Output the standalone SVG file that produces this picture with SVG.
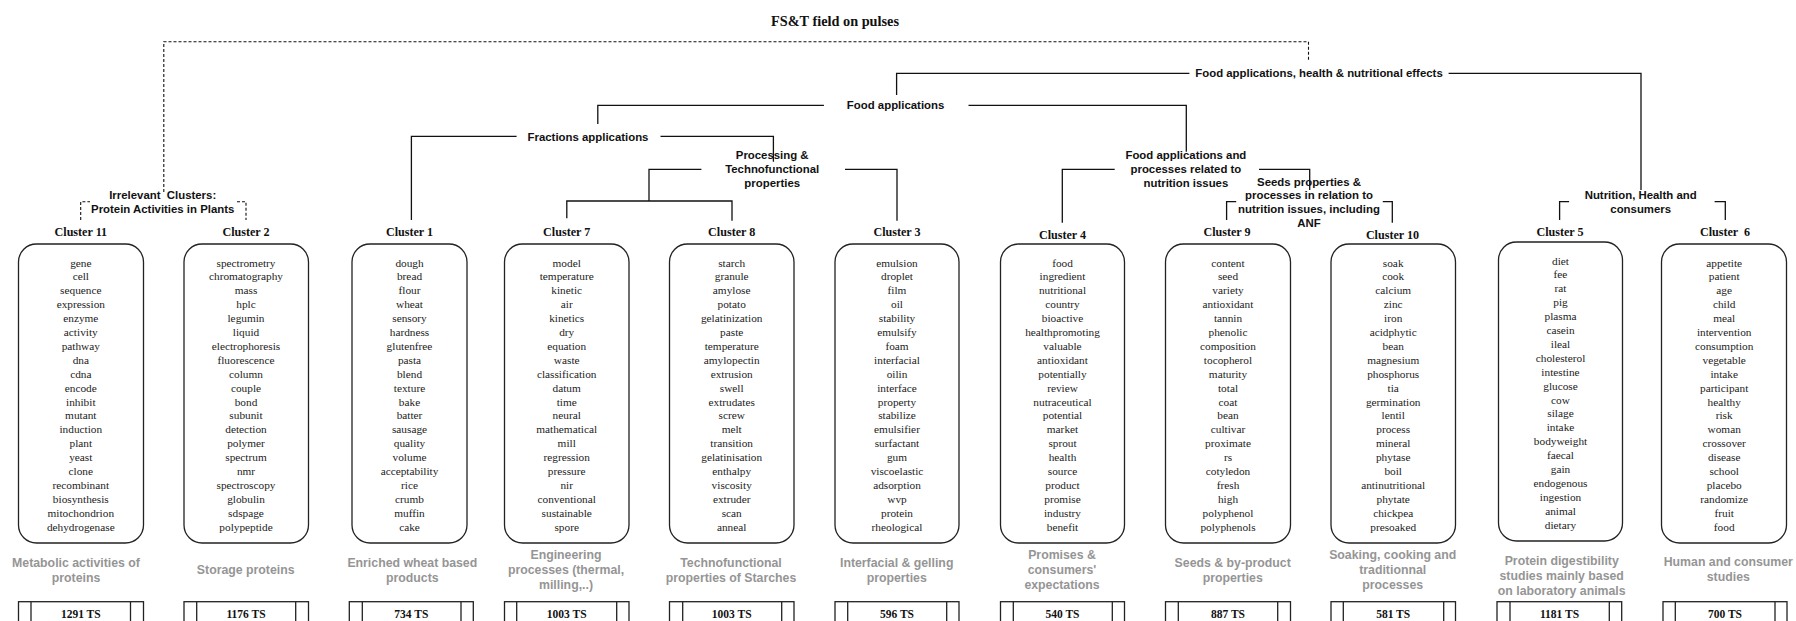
<svg xmlns="http://www.w3.org/2000/svg" width="1796" height="621" viewBox="0 0 1796 621">
<style>
.bg{fill:#ffffff}
.box{fill:#ffffff;stroke:#222;stroke-width:1.3}
.ts{fill:#ffffff;stroke:#222;stroke-width:1.3}
.tsl{stroke:#222;stroke-width:1.3}
.w{font-family:"Liberation Serif","Times New Roman",serif;font-size:11.3px;fill:#222;text-anchor:middle}
.cl{font-family:"Liberation Serif","Times New Roman",serif;font-size:12.1px;font-weight:bold;fill:#111;text-anchor:middle}
.tsv{font-family:"Liberation Serif","Times New Roman",serif;font-size:11.5px;font-weight:bold;fill:#111;text-anchor:middle}
.title{font-family:"Liberation Serif","Times New Roman",serif;font-size:14.3px;font-weight:bold;fill:#111;text-anchor:middle}
.lb{font-family:"Liberation Sans",Arial,sans-serif;font-size:11.4px;font-weight:bold;fill:#111;text-anchor:middle}
.desc{font-family:"Liberation Sans",Arial,sans-serif;font-size:12.3px;font-weight:bold;fill:#959595;text-anchor:middle}
.con{fill:none;stroke:#111;stroke-width:1.3}
.dash{fill:none;stroke:#111;stroke-width:1.1;stroke-dasharray:3 2}
</style>
<rect class="bg" x="0" y="0" width="1796" height="621"/>

<text class="title" x="835" y="25.5">FS&amp;T field on pulses</text>

<g id="connectors">
<path class="dash" d="M163.8,192 V41.7 H1308.5 V60"/>
<path class="dash" d="M80.7,220 V201.7 H90 M237,201.7 H246 V220"/>
<path class="con" d="M896.6,95 V73.3 H1189.4 M1448.6,73.3 H1641 V190"/>
<path class="con" d="M597.8,124 V105.3 H823.9 M968.5,105.3 H1186.3 V151.7"/>
<path class="con" d="M411.4,220 V136.3 H516.6 M660.5,136.3 H773.4 V161.7"/>
<path class="con" d="M701.4,169.3 H649 V201 M566.8,218.3 V201 H732 V220.7 M845,169.3 H897 V220.7"/>
<path class="con" d="M1114.7,169.3 H1062.3 V222.7 M1259,169.3 H1309.7 V190"/>
<path class="con" d="M1226.6,220 V201.7 H1236.2 M1382.8,201.7 H1392.3 V222.7"/>
<path class="con" d="M1559.6,220 V201.7 H1569.1 M1714.6,201.7 H1725.3 V220"/>
</g>

<g id="group-labels">
<text class="lb" x="1319" y="77.3">Food applications, health &amp; nutritional effects</text>
<text class="lb" x="895.6" y="109.3">Food applications</text>
<text class="lb" x="588" y="141">Fractions applications</text>
<text class="lb" x="772.2" y="159.3">Processing &amp;<tspan x="772.2" dy="14">Technofunctional</tspan><tspan x="772.2" dy="14">properties</tspan></text>
<text class="lb" x="1185.9" y="159.3">Food applications and<tspan x="1185.9" dy="14">processes related to</tspan><tspan x="1185.9" dy="14">nutrition issues</tspan></text>
<text class="lb" x="1309" y="185.5">Seeds properties &amp;<tspan x="1309" dy="13.7">processes in relation to</tspan><tspan x="1309" dy="13.7">nutrition issues, including</tspan><tspan x="1309" dy="13.7">ANF</tspan></text>
<text class="lb" x="1640.7" y="199">Nutrition, Health and<tspan x="1640.7" dy="14">consumers</tspan></text>
<text class="lb" x="162.7" y="199" xml:space="preserve" style="white-space:pre">Irrelevant  Clusters:</text>
<text class="lb" x="162.7" y="213">Protein Activities in Plants</text>
</g>

<g id="cluster11">
<text class="cl" x="80.8" y="236">Cluster 11</text>
<rect class="box" x="18.5" y="244" width="125" height="299" rx="18"/>
<text class="w" x="80.8" y="266.5">gene<tspan x="80.8" dy="13.9">cell</tspan><tspan x="80.8" dy="13.9">sequence</tspan><tspan x="80.8" dy="13.9">expression</tspan><tspan x="80.8" dy="13.9">enzyme</tspan><tspan x="80.8" dy="13.9">activity</tspan><tspan x="80.8" dy="13.9">pathway</tspan><tspan x="80.8" dy="13.9">dna</tspan><tspan x="80.8" dy="13.9">cdna</tspan><tspan x="80.8" dy="13.9">encode</tspan><tspan x="80.8" dy="13.9">inhibit</tspan><tspan x="80.8" dy="13.9">mutant</tspan><tspan x="80.8" dy="13.9">induction</tspan><tspan x="80.8" dy="13.9">plant</tspan><tspan x="80.8" dy="13.9">yeast</tspan><tspan x="80.8" dy="13.9">clone</tspan><tspan x="80.8" dy="13.9">recombinant</tspan><tspan x="80.8" dy="13.9">biosynthesis</tspan><tspan x="80.8" dy="13.9">mitochondrion</tspan><tspan x="80.8" dy="13.9">dehydrogenase</tspan></text>
<text class="desc" x="76" y="567">Metabolic activities of<tspan x="76" dy="15">proteins</tspan></text>
<rect class="ts" x="18.5" y="601.7" width="125" height="40"/>
<path class="tsl" d="M31,601.7 V641.7 M130.5,601.7 V641.7"/>
<text class="tsv" x="80.8" y="617.5">1291 TS</text>
</g>

<g id="cluster2">
<text class="cl" x="246" y="236">Cluster 2</text>
<rect class="box" x="184" y="244" width="124.5" height="299" rx="18"/>
<text class="w" x="246" y="266.5">spectrometry<tspan x="246" dy="13.9">chromatography</tspan><tspan x="246" dy="13.9">mass</tspan><tspan x="246" dy="13.9">hplc</tspan><tspan x="246" dy="13.9">legumin</tspan><tspan x="246" dy="13.9">liquid</tspan><tspan x="246" dy="13.9">electrophoresis</tspan><tspan x="246" dy="13.9">fluorescence</tspan><tspan x="246" dy="13.9">column</tspan><tspan x="246" dy="13.9">couple</tspan><tspan x="246" dy="13.9">bond</tspan><tspan x="246" dy="13.9">subunit</tspan><tspan x="246" dy="13.9">detection</tspan><tspan x="246" dy="13.9">polymer</tspan><tspan x="246" dy="13.9">spectrum</tspan><tspan x="246" dy="13.9">nmr</tspan><tspan x="246" dy="13.9">spectroscopy</tspan><tspan x="246" dy="13.9">globulin</tspan><tspan x="246" dy="13.9">sdspage</tspan><tspan x="246" dy="13.9">polypeptide</tspan></text>
<text class="desc" x="245.7" y="574.3">Storage proteins</text>
<rect class="ts" x="184" y="601.7" width="124.5" height="40"/>
<path class="tsl" d="M196.7,601.7 V641.7 M295.7,601.7 V641.7"/>
<text class="tsv" x="246" y="617.5">1176 TS</text>
</g>

<g id="cluster1">
<text class="cl" x="409.5" y="236">Cluster 1</text>
<rect class="box" x="352" y="244" width="115" height="299" rx="18"/>
<text class="w" x="409.5" y="266.5">dough<tspan x="409.5" dy="13.9">bread</tspan><tspan x="409.5" dy="13.9">flour</tspan><tspan x="409.5" dy="13.9">wheat</tspan><tspan x="409.5" dy="13.9">sensory</tspan><tspan x="409.5" dy="13.9">hardness</tspan><tspan x="409.5" dy="13.9">glutenfree</tspan><tspan x="409.5" dy="13.9">pasta</tspan><tspan x="409.5" dy="13.9">blend</tspan><tspan x="409.5" dy="13.9">texture</tspan><tspan x="409.5" dy="13.9">bake</tspan><tspan x="409.5" dy="13.9">batter</tspan><tspan x="409.5" dy="13.9">sausage</tspan><tspan x="409.5" dy="13.9">quality</tspan><tspan x="409.5" dy="13.9">volume</tspan><tspan x="409.5" dy="13.9">acceptability</tspan><tspan x="409.5" dy="13.9">rice</tspan><tspan x="409.5" dy="13.9">crumb</tspan><tspan x="409.5" dy="13.9">muffin</tspan><tspan x="409.5" dy="13.9">cake</tspan></text>
<text class="desc" x="412.3" y="567">Enriched wheat based<tspan x="412.3" dy="15">products</tspan></text>
<rect class="ts" x="349.3" y="601.7" width="124" height="40"/>
<path class="tsl" d="M362.3,601.7 V641.7 M461,601.7 V641.7"/>
<text class="tsv" x="411.3" y="617.5">734 TS</text>
</g>

<g id="cluster7">
<text class="cl" x="566.7" y="236">Cluster 7</text>
<rect class="box" x="504.5" y="244" width="124.5" height="299" rx="18"/>
<text class="w" x="566.7" y="266.5">model<tspan x="566.7" dy="13.9">temperature</tspan><tspan x="566.7" dy="13.9">kinetic</tspan><tspan x="566.7" dy="13.9">air</tspan><tspan x="566.7" dy="13.9">kinetics</tspan><tspan x="566.7" dy="13.9">dry</tspan><tspan x="566.7" dy="13.9">equation</tspan><tspan x="566.7" dy="13.9">waste</tspan><tspan x="566.7" dy="13.9">classification</tspan><tspan x="566.7" dy="13.9">datum</tspan><tspan x="566.7" dy="13.9">time</tspan><tspan x="566.7" dy="13.9">neural</tspan><tspan x="566.7" dy="13.9">mathematical</tspan><tspan x="566.7" dy="13.9">mill</tspan><tspan x="566.7" dy="13.9">regression</tspan><tspan x="566.7" dy="13.9">pressure</tspan><tspan x="566.7" dy="13.9">nir</tspan><tspan x="566.7" dy="13.9">conventional</tspan><tspan x="566.7" dy="13.9">sustainable</tspan><tspan x="566.7" dy="13.9">spore</tspan></text>
<text class="desc" x="566" y="559.3">Engineering<tspan x="566" dy="15">processes (thermal,</tspan><tspan x="566" dy="15">milling,..)</tspan></text>
<rect class="ts" x="504.5" y="601.7" width="124.5" height="40"/>
<path class="tsl" d="M516.7,601.7 V641.7 M616.7,601.7 V641.7"/>
<text class="tsv" x="566.7" y="617.5">1003 TS</text>
</g>

<g id="cluster8">
<text class="cl" x="731.7" y="236">Cluster 8</text>
<rect class="box" x="669.5" y="244" width="124.5" height="299" rx="18"/>
<text class="w" x="731.7" y="266.5">starch<tspan x="731.7" dy="13.9">granule</tspan><tspan x="731.7" dy="13.9">amylose</tspan><tspan x="731.7" dy="13.9">potato</tspan><tspan x="731.7" dy="13.9">gelatinization</tspan><tspan x="731.7" dy="13.9">paste</tspan><tspan x="731.7" dy="13.9">temperature</tspan><tspan x="731.7" dy="13.9">amylopectin</tspan><tspan x="731.7" dy="13.9">extrusion</tspan><tspan x="731.7" dy="13.9">swell</tspan><tspan x="731.7" dy="13.9">extrudates</tspan><tspan x="731.7" dy="13.9">screw</tspan><tspan x="731.7" dy="13.9">melt</tspan><tspan x="731.7" dy="13.9">transition</tspan><tspan x="731.7" dy="13.9">gelatinisation</tspan><tspan x="731.7" dy="13.9">enthalpy</tspan><tspan x="731.7" dy="13.9">viscosity</tspan><tspan x="731.7" dy="13.9">extruder</tspan><tspan x="731.7" dy="13.9">scan</tspan><tspan x="731.7" dy="13.9">anneal</tspan></text>
<text class="desc" x="731" y="567">Technofunctional<tspan x="731" dy="15">properties of Starches</tspan></text>
<rect class="ts" x="669.5" y="601.7" width="124.5" height="40"/>
<path class="tsl" d="M682.7,601.7 V641.7 M781.7,601.7 V641.7"/>
<text class="tsv" x="731.7" y="617.5">1003 TS</text>
</g>

<g id="cluster3">
<text class="cl" x="897" y="236">Cluster 3</text>
<rect class="box" x="835" y="244" width="124" height="299" rx="18"/>
<text class="w" x="897" y="266.5">emulsion<tspan x="897" dy="13.9">droplet</tspan><tspan x="897" dy="13.9">film</tspan><tspan x="897" dy="13.9">oil</tspan><tspan x="897" dy="13.9">stability</tspan><tspan x="897" dy="13.9">emulsify</tspan><tspan x="897" dy="13.9">foam</tspan><tspan x="897" dy="13.9">interfacial</tspan><tspan x="897" dy="13.9">oilin</tspan><tspan x="897" dy="13.9">interface</tspan><tspan x="897" dy="13.9">property</tspan><tspan x="897" dy="13.9">stabilize</tspan><tspan x="897" dy="13.9">emulsifier</tspan><tspan x="897" dy="13.9">surfactant</tspan><tspan x="897" dy="13.9">gum</tspan><tspan x="897" dy="13.9">viscoelastic</tspan><tspan x="897" dy="13.9">adsorption</tspan><tspan x="897" dy="13.9">wvp</tspan><tspan x="897" dy="13.9">protein</tspan><tspan x="897" dy="13.9">rheological</tspan></text>
<text class="desc" x="896.7" y="567">Interfacial &amp; gelling<tspan x="896.7" dy="15">properties</tspan></text>
<rect class="ts" x="835" y="601.7" width="124" height="40"/>
<path class="tsl" d="M847.7,601.7 V641.7 M946.7,601.7 V641.7"/>
<text class="tsv" x="897" y="617.5">596 TS</text>
</g>

<g id="cluster4">
<text class="cl" x="1062.5" y="238.5">Cluster 4</text>
<rect class="box" x="1000.5" y="244" width="124" height="299" rx="18"/>
<text class="w" x="1062.5" y="266.5">food<tspan x="1062.5" dy="13.9">ingredient</tspan><tspan x="1062.5" dy="13.9">nutritional</tspan><tspan x="1062.5" dy="13.9">country</tspan><tspan x="1062.5" dy="13.9">bioactive</tspan><tspan x="1062.5" dy="13.9">healthpromoting</tspan><tspan x="1062.5" dy="13.9">valuable</tspan><tspan x="1062.5" dy="13.9">antioxidant</tspan><tspan x="1062.5" dy="13.9">potentially</tspan><tspan x="1062.5" dy="13.9">review</tspan><tspan x="1062.5" dy="13.9">nutraceutical</tspan><tspan x="1062.5" dy="13.9">potential</tspan><tspan x="1062.5" dy="13.9">market</tspan><tspan x="1062.5" dy="13.9">sprout</tspan><tspan x="1062.5" dy="13.9">health</tspan><tspan x="1062.5" dy="13.9">source</tspan><tspan x="1062.5" dy="13.9">product</tspan><tspan x="1062.5" dy="13.9">promise</tspan><tspan x="1062.5" dy="13.9">industry</tspan><tspan x="1062.5" dy="13.9">benefit</tspan></text>
<text class="desc" x="1062" y="559.3">Promises &amp;<tspan x="1062" dy="15">consumers'</tspan><tspan x="1062" dy="15">expectations</tspan></text>
<rect class="ts" x="1000.5" y="601.7" width="124" height="40"/>
<path class="tsl" d="M1013.3,601.7 V641.7 M1112.3,601.7 V641.7"/>
<text class="tsv" x="1062.5" y="617.5">540 TS</text>
</g>

<g id="cluster9">
<text class="cl" x="1227" y="236">Cluster 9</text>
<rect class="box" x="1165.5" y="244" width="125" height="299" rx="18"/>
<text class="w" x="1228" y="266.5">content<tspan x="1228" dy="13.9">seed</tspan><tspan x="1228" dy="13.9">variety</tspan><tspan x="1228" dy="13.9">antioxidant</tspan><tspan x="1228" dy="13.9">tannin</tspan><tspan x="1228" dy="13.9">phenolic</tspan><tspan x="1228" dy="13.9">composition</tspan><tspan x="1228" dy="13.9">tocopherol</tspan><tspan x="1228" dy="13.9">maturity</tspan><tspan x="1228" dy="13.9">total</tspan><tspan x="1228" dy="13.9">coat</tspan><tspan x="1228" dy="13.9">bean</tspan><tspan x="1228" dy="13.9">cultivar</tspan><tspan x="1228" dy="13.9">proximate</tspan><tspan x="1228" dy="13.9">rs</tspan><tspan x="1228" dy="13.9">cotyledon</tspan><tspan x="1228" dy="13.9">fresh</tspan><tspan x="1228" dy="13.9">high</tspan><tspan x="1228" dy="13.9">polyphenol</tspan><tspan x="1228" dy="13.9">polyphenols</tspan></text>
<text class="desc" x="1232.7" y="567">Seeds &amp; by-product<tspan x="1232.7" dy="15">properties</tspan></text>
<rect class="ts" x="1165.5" y="601.7" width="125" height="40"/>
<path class="tsl" d="M1178.3,601.7 V641.7 M1277.7,601.7 V641.7"/>
<text class="tsv" x="1228" y="617.5">887 TS</text>
</g>

<g id="cluster10">
<text class="cl" x="1392.5" y="238.5">Cluster 10</text>
<rect class="box" x="1331" y="244" width="124.5" height="299" rx="18"/>
<text class="w" x="1393.2" y="266.5">soak<tspan x="1393.2" dy="13.9">cook</tspan><tspan x="1393.2" dy="13.9">calcium</tspan><tspan x="1393.2" dy="13.9">zinc</tspan><tspan x="1393.2" dy="13.9">iron</tspan><tspan x="1393.2" dy="13.9">acidphytic</tspan><tspan x="1393.2" dy="13.9">bean</tspan><tspan x="1393.2" dy="13.9">magnesium</tspan><tspan x="1393.2" dy="13.9">phosphorus</tspan><tspan x="1393.2" dy="13.9">tia</tspan><tspan x="1393.2" dy="13.9">germination</tspan><tspan x="1393.2" dy="13.9">lentil</tspan><tspan x="1393.2" dy="13.9">process</tspan><tspan x="1393.2" dy="13.9">mineral</tspan><tspan x="1393.2" dy="13.9">phytase</tspan><tspan x="1393.2" dy="13.9">boil</tspan><tspan x="1393.2" dy="13.9">antinutritional</tspan><tspan x="1393.2" dy="13.9">phytate</tspan><tspan x="1393.2" dy="13.9">chickpea</tspan><tspan x="1393.2" dy="13.9">presoaked</tspan></text>
<text class="desc" x="1392.7" y="559.3">Soaking, cooking and<tspan x="1392.7" dy="15">traditionnal</tspan><tspan x="1392.7" dy="15">processes</tspan></text>
<rect class="ts" x="1331" y="601.7" width="124.5" height="40"/>
<path class="tsl" d="M1343.3,601.7 V641.7 M1443.7,601.7 V641.7"/>
<text class="tsv" x="1393.2" y="617.5">581 TS</text>
</g>

<g id="cluster5">
<text class="cl" x="1560" y="236">Cluster 5</text>
<rect class="box" x="1498.5" y="242" width="124" height="299" rx="18"/>
<text class="w" x="1560.5" y="264.5">diet<tspan x="1560.5" dy="13.9">fee</tspan><tspan x="1560.5" dy="13.9">rat</tspan><tspan x="1560.5" dy="13.9">pig</tspan><tspan x="1560.5" dy="13.9">plasma</tspan><tspan x="1560.5" dy="13.9">casein</tspan><tspan x="1560.5" dy="13.9">ileal</tspan><tspan x="1560.5" dy="13.9">cholesterol</tspan><tspan x="1560.5" dy="13.9">intestine</tspan><tspan x="1560.5" dy="13.9">glucose</tspan><tspan x="1560.5" dy="13.9">cow</tspan><tspan x="1560.5" dy="13.9">silage</tspan><tspan x="1560.5" dy="13.9">intake</tspan><tspan x="1560.5" dy="13.9">bodyweight</tspan><tspan x="1560.5" dy="13.9">faecal</tspan><tspan x="1560.5" dy="13.9">gain</tspan><tspan x="1560.5" dy="13.9">endogenous</tspan><tspan x="1560.5" dy="13.9">ingestion</tspan><tspan x="1560.5" dy="13.9">animal</tspan><tspan x="1560.5" dy="13.9">dietary</tspan></text>
<text class="desc" x="1561.7" y="565">Protein digestibility<tspan x="1561.7" dy="15">studies mainly based</tspan><tspan x="1561.7" dy="15">on laboratory animals</tspan></text>
<rect class="ts" x="1497" y="601.7" width="124.7" height="40"/>
<path class="tsl" d="M1510,601.7 V641.7 M1609.3,601.7 V641.7"/>
<text class="tsv" x="1559.5" y="617.5">1181 TS</text>
</g>

<g id="cluster6">
<text class="cl" x="1725" y="236" xml:space="preserve" style="white-space:pre">Cluster  6</text>
<rect class="box" x="1661.5" y="244" width="125" height="299" rx="18"/>
<text class="w" x="1724.2" y="266.5">appetite<tspan x="1724.2" dy="13.9">patient</tspan><tspan x="1724.2" dy="13.9">age</tspan><tspan x="1724.2" dy="13.9">child</tspan><tspan x="1724.2" dy="13.9">meal</tspan><tspan x="1724.2" dy="13.9">intervention</tspan><tspan x="1724.2" dy="13.9">consumption</tspan><tspan x="1724.2" dy="13.9">vegetable</tspan><tspan x="1724.2" dy="13.9">intake</tspan><tspan x="1724.2" dy="13.9">participant</tspan><tspan x="1724.2" dy="13.9">healthy</tspan><tspan x="1724.2" dy="13.9">risk</tspan><tspan x="1724.2" dy="13.9">woman</tspan><tspan x="1724.2" dy="13.9">crossover</tspan><tspan x="1724.2" dy="13.9">disease</tspan><tspan x="1724.2" dy="13.9">school</tspan><tspan x="1724.2" dy="13.9">placebo</tspan><tspan x="1724.2" dy="13.9">randomize</tspan><tspan x="1724.2" dy="13.9">fruit</tspan><tspan x="1724.2" dy="13.9">food</tspan></text>
<text class="desc" x="1728.3" y="566">Human and consumer<tspan x="1728.3" dy="15">studies</tspan></text>
<rect class="ts" x="1663" y="601.7" width="124" height="40"/>
<path class="tsl" d="M1675.3,601.7 V641.7 M1775,601.7 V641.7"/>
<text class="tsv" x="1725" y="617.5">700 TS</text>
</g>
</svg>
